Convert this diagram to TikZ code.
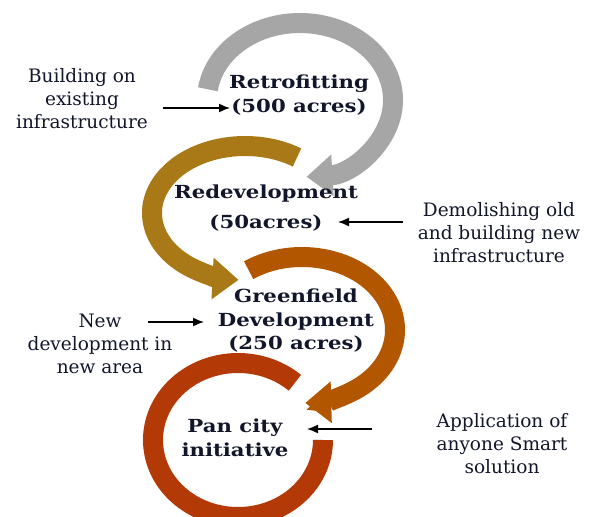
\documentclass[tikz,border=0pt]{standalone}
\usepackage{fontspec}
\setmainfont{DejaVu Serif}
\newfontfamily\titlefont[FakeStretch=1.18,BoldFont=DejaVu Serif Bold]{DejaVu Serif}
\usetikzlibrary{arrows.meta}
\definecolor{ringgray}{RGB}{166,166,166}
\definecolor{ringgold}{RGB}{168,121,22}
\definecolor{ringorange}{RGB}{178,86,0}
\definecolor{ringred}{RGB}{179,57,6}
\definecolor{inkblue}{RGB}{18,22,42}
\tikzset{
  ring/.style={line width=20pt},
  title/.style={font=\titlefont\bfseries\fontsize{18}{23.5}\selectfont, text=inkblue, align=center, inner sep=0pt},
  note/.style={font=\fontsize{18.5}{23}\selectfont, text=inkblue, align=center, inner sep=0pt},
  pointer/.style={-{Latex[length=11pt,width=9pt]}, line width=1.5pt}
}

\begin{document}
\begin{tikzpicture}[x=1pt,y=-1pt]
\useasboundingbox (0,0) rectangle (603,517);
\clip (0,0) rectangle (603,517);
%% rings
\coordinate (gc) at (300,100);
\coordinate (dc) at (245,213);
\coordinate (oc) at (302,330);
\coordinate (rc) at (238,440);
\draw[ring,ringgray,-{Triangle[length=26pt,width=40pt]}] (gc) ++(188:93 and 77) arc[start angle=188, end angle=446, x radius=93, y radius=77];
\draw[ring,ringgold,-{Triangle[length=26pt,width=40pt]}] (dc) ++(-56:93 and 67) arc[start angle=-56, end angle=-266, x radius=93, y radius=67];
\draw[ring,ringorange,-{Triangle[length=26pt,width=40pt]}] (oc) ++(235:93 and 73) arc[start angle=235, end angle=448, x radius=93, y radius=73];
\draw[ring,ringred] (rc) ++(-48:85 and 77) arc[start angle=-48, end angle=-360, x radius=85, y radius=77];

%% titles
\node[title] (retro) at (299,95) {Retrofitting\\(500 acres)};
\node[title] (redev) at (266,208) {Redevelopment\\[7pt](50acres)};
\node[title] (green) at (296,321) {Greenfield\\Development\\(250 acres)};
\node[title] (pan) at (235,438) {Pan city\\initiative};

%% notes
\node[note] (bld) at (82,99) {Building on\\existing\\infrastructure};
\node[note] (demo) at (499,233) {Demolishing old\\and building new\\infrastructure};
\node[note] (newdev) at (100,344) {New\\development in\\new area};
\node[note] (appl) at (502,444) {Application of\\anyone Smart\\solution};

%% pointers
\coordinate (b1) at (163,108);
\coordinate (b2) at (230,108);
\coordinate (d1) at (403,222);
\coordinate (d2) at (338,222);
\coordinate (n1) at (148,322);
\coordinate (n2) at (204,322);
\coordinate (p1) at (372,429);
\coordinate (p2) at (307,429);
\draw[pointer] (b1) -- (b2);
\draw[pointer] (d1) -- (d2);
\draw[pointer] (n1) -- (n2);
\draw[pointer] (p1) -- (p2);
\end{tikzpicture}
\end{document}
